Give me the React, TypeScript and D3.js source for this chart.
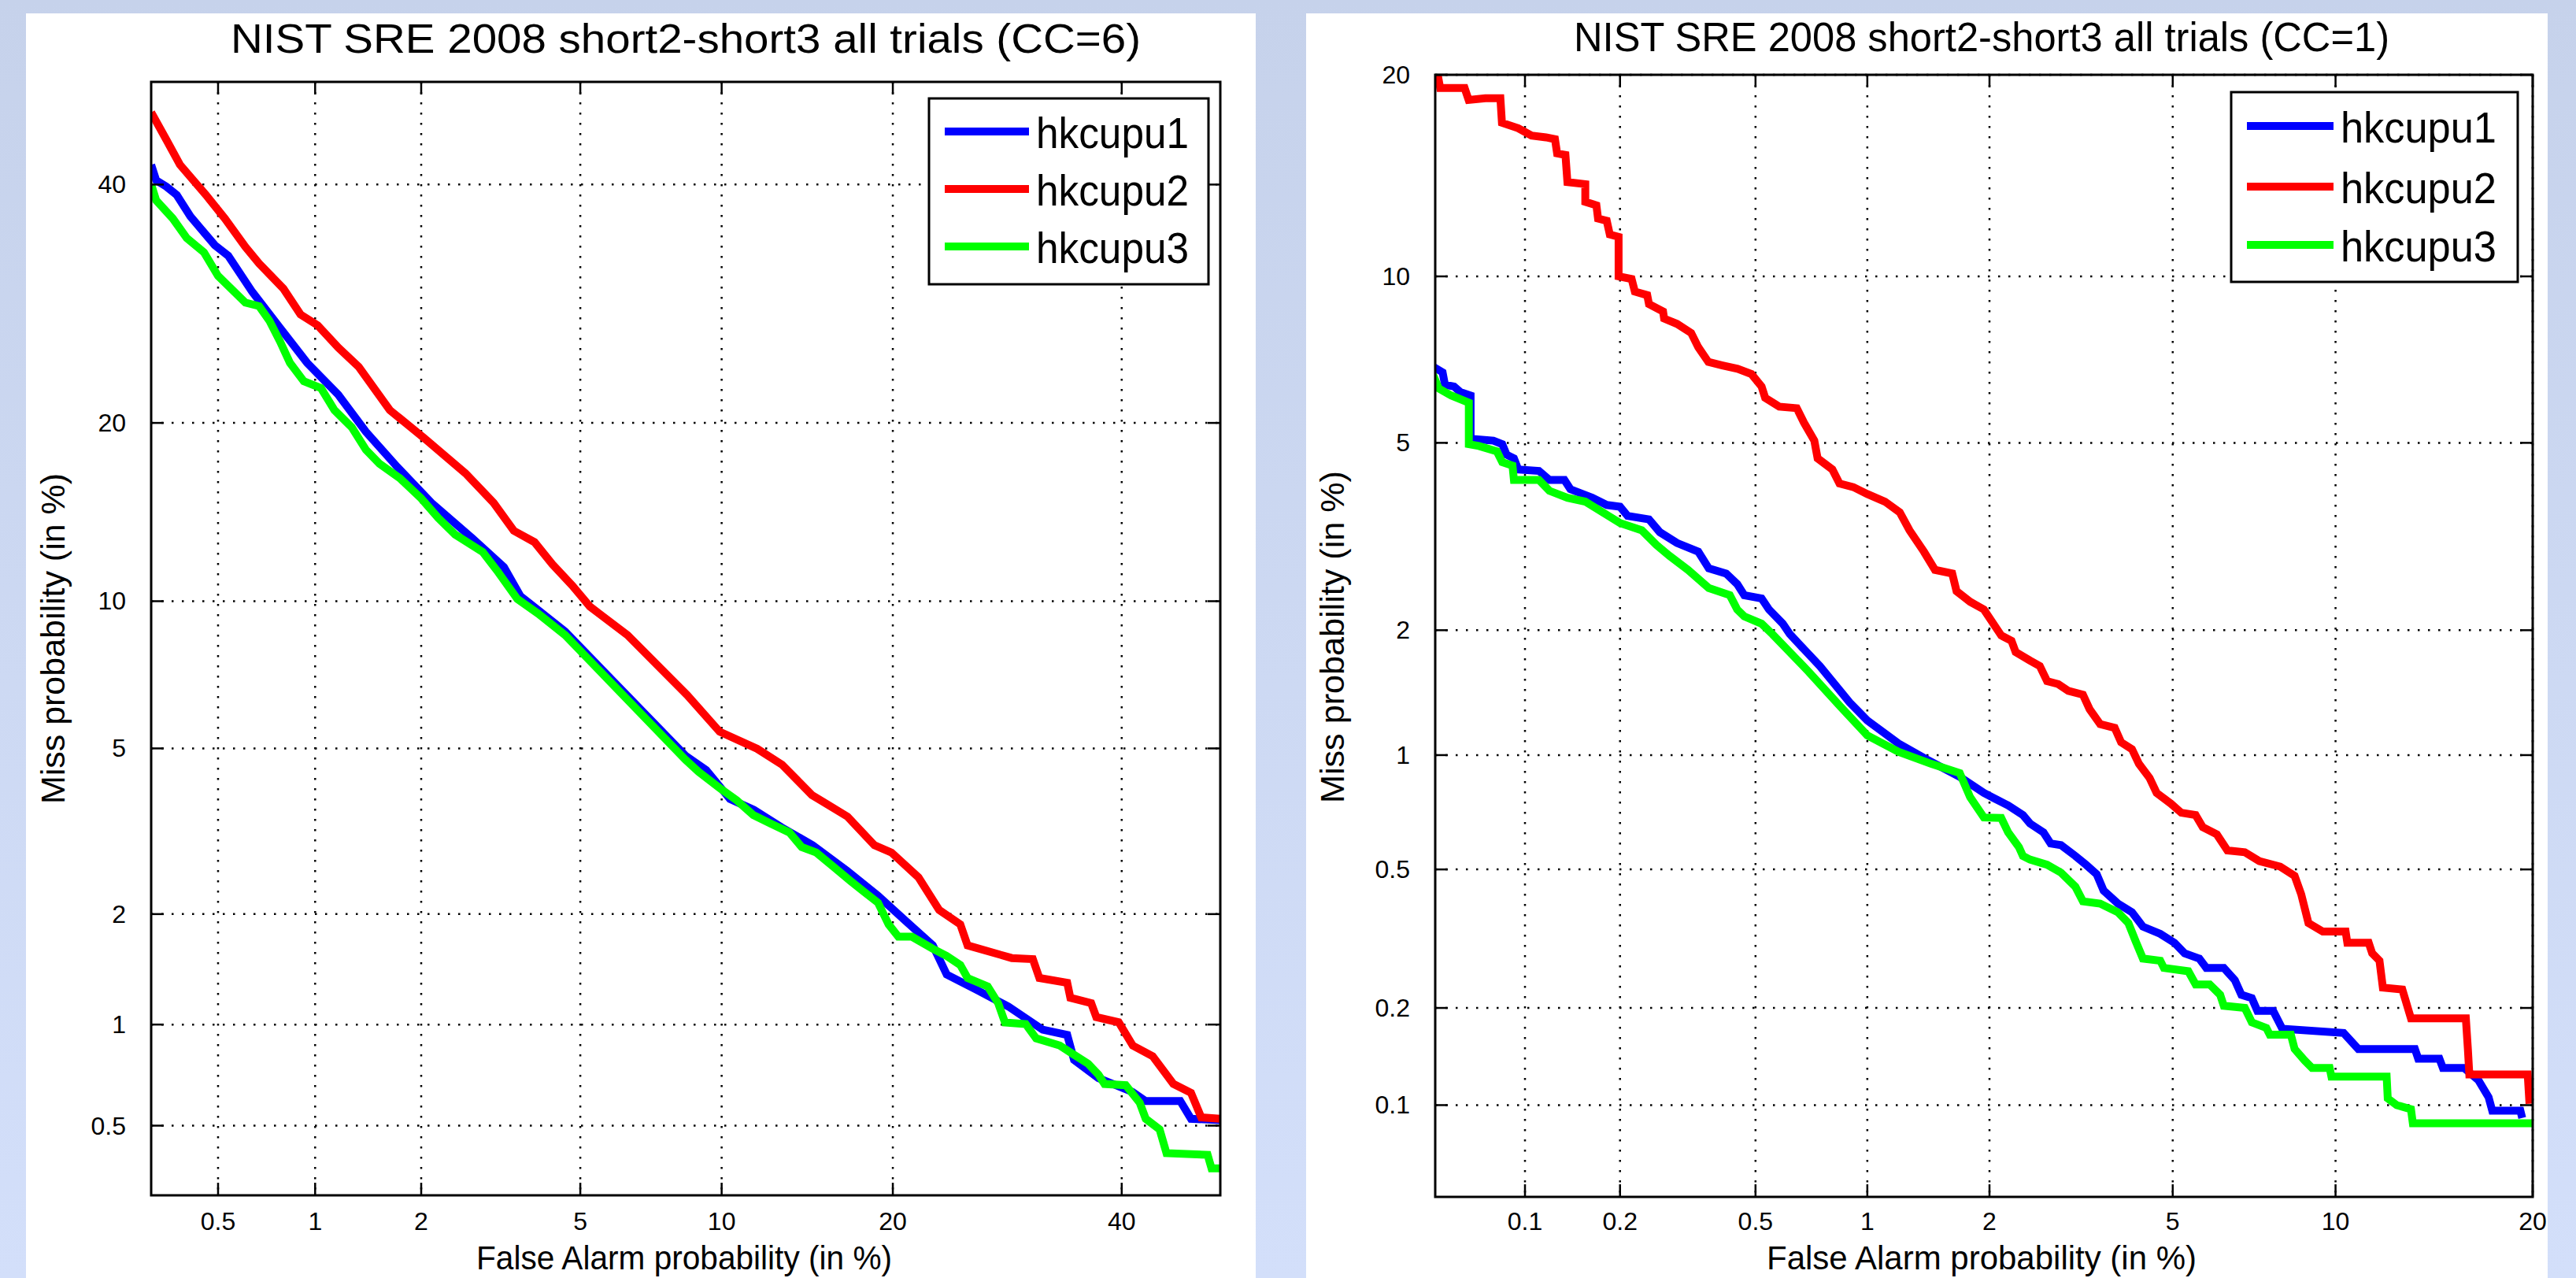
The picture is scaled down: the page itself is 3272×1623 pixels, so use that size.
import React from 'react'
import * as d3 from 'd3'

const W = 3272
const H = 1623
const FONT = '"Liberation Sans", Arial, Helvetica, sans-serif'

const SERIES = ['hkcupu1', 'hkcupu2', 'hkcupu3']
const COLORS = ['#0000ff', '#ff0000', '#00ff00']

// CC=6 panel, points are [false alarm %, miss %]
const cc6Hkcupu1: [number, number][] = [
  [0.30, 41.9], [0.312, 40.4], [0.338, 39.8], [0.366, 39.0], [0.406, 37.0], [0.488, 34.35], [0.539, 33.4],
  [0.643, 30.2], [0.783, 27.2], [0.947, 24.4], [1.17, 22.0], [1.405, 19.4], [1.72, 17.1], [2.13, 14.95],
  [2.73, 13.0], [3.28, 11.56], [3.6, 10.23], [4.61, 8.75], [8.46, 4.82], [9.32, 4.47], [10.38, 3.84],
  [11.53, 3.62], [12.98, 3.29], [14.74, 2.98], [16.86, 2.58], [18.95, 2.23], [20.9, 1.925], [23.0, 1.655],
  [24.1, 1.38], [26.6, 1.25], [29.3, 1.125], [32.4, 0.967], [34.7, 0.934], [35.35, 0.79], [37.7, 0.698],
  [41.06, 0.634], [42.4, 0.595], [45.9, 0.595], [47.0, 0.525], [50, 0.52],
]
const cc6Hkcupu2: [number, number][] = [
  [0.30, 47.0], [0.338, 44.3], [0.375, 41.9], [0.457, 39.0], [0.526, 36.8], [0.611, 34.2], [0.675, 32.7],
  [0.802, 30.5], [0.904, 28.3], [1.017, 27.4], [1.17, 25.6], [1.34, 24.1], [1.64, 20.9], [2.04, 18.95],
  [2.62, 16.7], [3.09, 14.95], [3.47, 13.4], [3.9, 12.8], [4.3, 11.7], [4.79, 10.7], [5.26, 9.77],
  [6.38, 8.61], [8.53, 6.51], [9.91, 5.44], [11.7, 4.99], [13.0, 4.6], [14.7, 3.92], [16.9, 3.49],
  [18.7, 2.98], [19.9, 2.86], [21.9, 2.48], [23.5, 2.05], [25.2, 1.88], [25.8, 1.655], [29.6, 1.53],
  [31.5, 1.52], [32.1, 1.35], [34.7, 1.31], [35.0, 1.19], [37.0, 1.15], [37.5, 1.05], [39.7, 1.015],
  [41.1, 0.87], [43.1, 0.81], [45.2, 0.67], [47.0, 0.63], [48.05, 0.53], [50, 0.525],
]
const cc6Hkcupu3: [number, number][] = [
  [0.30, 40.0], [0.312, 38.5], [0.355, 36.8], [0.395, 35.0], [0.45, 33.7], [0.5, 31.6], [0.611, 29.3],
  [0.675, 29.0], [0.726, 27.8], [0.783, 26.1], [0.84, 24.4], [0.925, 23.0], [1.04, 22.5], [1.14, 20.9],
  [1.28, 19.7], [1.405, 18.2], [1.535, 17.3], [1.75, 16.4], [2.0, 15.2], [2.22, 14.1], [2.46, 13.2],
  [2.9, 12.3], [3.15, 11.4], [3.54, 10.1], [3.98, 9.47], [4.61, 8.61], [8.46, 4.72], [9.0, 4.43],
  [9.91, 4.07], [10.7, 3.81], [11.5, 3.52], [12.4, 3.36], [13.4, 3.2], [14.1, 2.95], [14.95, 2.86],
  [16.0, 2.64], [17.1, 2.43], [18.0, 2.28], [18.95, 2.14], [19.7, 1.88], [20.4, 1.745], [21.4, 1.745],
  [23.0, 1.62], [24.1, 1.55], [25.2, 1.465], [25.8, 1.35], [27.5, 1.28], [28.4, 1.15], [29.0, 1.014],
  [30.85, 1.003], [31.8, 0.913], [34.0, 0.87], [35.35, 0.818], [36.7, 0.77], [37.7, 0.715], [38.3, 0.67],
  [40.4, 0.664], [41.8, 0.588], [42.4, 0.525], [43.8, 0.487], [44.5, 0.41], [48.7, 0.405], [49.1, 0.367],
  [50, 0.367],
]

// CC=1 panel
const cc1Hkcupu1: [number, number][] = [
  [0.049, 6.97], [0.053, 6.8], [0.054, 6.45], [0.058, 6.4], [0.061, 6.25], [0.066, 6.16], [0.066, 5.09],
  [0.0787, 5.05], [0.0842, 4.97], [0.087, 4.74], [0.092, 4.66], [0.095, 4.43], [0.111, 4.4], [0.12, 4.22],
  [0.134, 4.22], [0.14, 4.04], [0.164, 3.88], [0.182, 3.75], [0.2, 3.72], [0.211, 3.56], [0.245, 3.5],
  [0.264, 3.29], [0.297, 3.12], [0.343, 2.99], [0.368, 2.75], [0.413, 2.68], [0.444, 2.54], [0.465, 2.4],
  [0.52, 2.36], [0.545, 2.23], [0.595, 2.07], [0.622, 1.96], [0.75, 1.65], [0.9, 1.35], [1.0, 1.22],
  [1.2, 1.07], [1.4, 0.98], [1.7, 0.88], [1.94, 0.8], [2.05, 0.775], [2.21, 0.742], [2.39, 0.7],
  [2.48, 0.665], [2.66, 0.63], [2.76, 0.588], [2.91, 0.582], [3.13, 0.544], [3.3, 0.515], [3.48, 0.485],
  [3.6, 0.437], [3.86, 0.402], [4.13, 0.38], [4.35, 0.346], [4.72, 0.33], [5.04, 0.311], [5.28, 0.29],
  [5.64, 0.28], [5.82, 0.263], [6.29, 0.263], [6.6, 0.242], [6.79, 0.219], [7.1, 0.214], [7.27, 0.196],
  [7.77, 0.196], [8.07, 0.173], [10.32, 0.168], [10.92, 0.15], [13.47, 0.15], [13.63, 0.14], [14.69, 0.14],
  [14.87, 0.131], [15.99, 0.131], [16.78, 0.12], [17.36, 0.106], [17.57, 0.096], [19.24, 0.096], [19.35, 0.091],
]
const cc1Hkcupu2: [number, number][] = [
  [0.051, 20], [0.052, 19.2], [0.063, 19.2], [0.065, 18.5], [0.074, 18.6], [0.083, 18.6], [0.084, 17.2],
  [0.095, 16.9], [0.105, 16.5], [0.117, 16.4], [0.125, 16.3], [0.127, 15.55], [0.135, 15.47], [0.137, 14.1],
  [0.156, 14.0], [0.156, 13.16], [0.169, 13.0], [0.171, 12.4], [0.182, 12.3], [0.186, 11.7], [0.198, 11.6],
  [0.198, 10.0], [0.217, 9.9], [0.222, 9.43], [0.242, 9.3], [0.245, 8.98], [0.27, 8.72], [0.272, 8.48],
  [0.297, 8.3], [0.327, 8.0], [0.343, 7.55], [0.367, 7.1], [0.403, 7.0], [0.445, 6.9], [0.487, 6.75],
  [0.52, 6.4], [0.532, 6.1], [0.582, 5.87], [0.65, 5.83], [0.68, 5.47], [0.725, 5.05], [0.74, 4.66],
  [0.81, 4.43], [0.846, 4.15], [0.92, 4.08], [1.0, 3.95], [1.11, 3.81], [1.21, 3.62], [1.28, 3.32],
  [1.39, 2.99], [1.48, 2.73], [1.63, 2.68], [1.67, 2.45], [1.8, 2.32], [1.94, 2.23], [2.13, 1.945],
  [2.25, 1.89], [2.3, 1.78], [2.48, 1.7], [2.61, 1.65], [2.71, 1.52], [2.87, 1.495], [3.02, 1.44],
  [3.25, 1.41], [3.36, 1.3], [3.54, 1.195], [3.8, 1.17], [3.92, 1.077], [4.13, 1.035], [4.27, 0.95],
  [4.49, 0.874], [4.64, 0.8], [4.96, 0.75], [5.2, 0.71], [5.55, 0.7], [5.73, 0.65], [6.1, 0.622],
  [6.39, 0.563], [6.89, 0.557], [7.33, 0.527], [8.0, 0.509], [8.49, 0.48], [8.72, 0.427], [8.98, 0.354],
  [9.51, 0.335], [10.4, 0.335], [10.47, 0.311], [11.36, 0.311], [11.51, 0.29], [11.83, 0.276], [11.98, 0.23],
  [12.87, 0.227], [13.1, 0.203], [13.28, 0.186], [16.09, 0.186], [16.2, 0.15], [16.28, 0.125], [19.69, 0.125],
  [19.8, 0.101],
]
const cc1Hkcupu3: [number, number][] = [
  [0.049, 6.75], [0.0514, 6.35], [0.0567, 6.16], [0.0651, 5.97], [0.0651, 4.97], [0.0704, 4.93], [0.0808, 4.81],
  [0.0842, 4.58], [0.091, 4.51], [0.092, 4.22], [0.111, 4.22], [0.12, 4.01], [0.137, 3.88], [0.156, 3.81],
  [0.177, 3.62], [0.2, 3.44], [0.233, 3.32], [0.258, 3.09], [0.282, 2.93], [0.32, 2.73], [0.368, 2.49],
  [0.423, 2.4], [0.444, 2.23], [0.465, 2.15], [0.52, 2.07], [0.557, 1.96], [0.7, 1.6], [0.85, 1.32],
  [1.0, 1.12], [1.2, 1.02], [1.45, 0.95], [1.7, 0.9], [1.8, 0.78], [1.94, 0.69], [2.13, 0.688],
  [2.21, 0.63], [2.34, 0.575], [2.39, 0.544], [2.48, 0.532], [2.71, 0.515], [2.91, 0.49], [3.13, 0.448],
  [3.25, 0.408], [3.54, 0.402], [3.86, 0.38], [4.06, 0.354], [4.2, 0.315], [4.35, 0.28], [4.72, 0.276],
  [4.8, 0.263], [5.37, 0.257], [5.55, 0.235], [5.91, 0.235], [6.19, 0.219], [6.29, 0.203], [6.89, 0.2],
  [7.1, 0.181], [7.55, 0.174], [7.66, 0.166], [8.36, 0.166], [8.49, 0.15], [8.85, 0.138], [9.11, 0.131],
  [9.77, 0.131], [9.84, 0.123], [12.15, 0.123], [12.2, 0.105], [12.61, 0.1], [13.28, 0.097], [13.37, 0.0874],
  [20, 0.0874],
]

const cc6Ticks = [0.5, 1, 2, 5, 10, 20, 40]
const cc1Ticks = [0.1, 0.2, 0.5, 1, 2, 5, 10, 20]
const cc6Limits = [0.3, 50]
const cc1Limits = [0.05, 20]

// inverse normal cdf (Acklam)
function probit(p: number): number {
  const a = [-39.69683028665376, 220.9460984245205, -275.9285104469687, 138.357751867269, -30.66479806614716, 2.506628277459239]
  const b = [-54.47609879822406, 161.5858368580409, -155.6989798598866, 66.80131188771972, -13.28068155288572]
  const c = [-0.007784894002430293, -0.3223964580411365, -2.400758277161838, -2.549732539343734, 4.374664141464968, 2.938163982698783]
  const d = [0.007784695709041462, 0.3224671290700398, 2.445134137142996, 3.754408661907416]
  const lo = 0.02425
  if (p < lo) {
    const q = Math.sqrt(-2 * Math.log(p))
    return (((((c[0] * q + c[1]) * q + c[2]) * q + c[3]) * q + c[4]) * q + c[5]) / ((((d[0] * q + d[1]) * q + d[2]) * q + d[3]) * q + 1)
  }
  if (p <= 1 - lo) {
    const q = p - 0.5
    const r = q * q
    return ((((((a[0] * r + a[1]) * r + a[2]) * r + a[3]) * r + a[4]) * r + a[5]) * q) / (((((b[0] * r + b[1]) * r + b[2]) * r + b[3]) * r + b[4]) * r + 1)
  }
  const q = Math.sqrt(-2 * Math.log(1 - p))
  return -(((((c[0] * q + c[1]) * q + c[2]) * q + c[3]) * q + c[4]) * q + c[5]) / ((((d[0] * q + d[1]) * q + d[2]) * q + d[3]) * q + 1)
}
const dev = (pct: number) => probit(pct / 100)

type Panel = {
  id: string
  title: string
  titleLen: number
  titleX: number
  titleY: number
  bg: { x: number; y: number; w: number }
  plot: { x0: number; x1: number; y0: number; y1: number }
  limits: number[]
  ticks: number[]
  series: [number, number][][]
  xlabel: { x: number; len: number }
  ylabel: { x: number; y: number; len: number }
  legend: { x: number; y: number; w: number; h: number; lx0: number; lx1: number; rows: number[]; tx: number; tlen: number }
}

const fmt = (v: number) => String(v)

function DetPanel({ p }: { p: Panel }) {
  const { x0, x1, y0, y1 } = p.plot
  const x = d3.scaleLinear().domain([dev(p.limits[0]), dev(p.limits[1])]).range([x0, x1])
  const y = d3.scaleLinear().domain([dev(p.limits[0]), dev(p.limits[1])]).range([y1, y0])
  const line = d3
    .line<[number, number]>()
    .x((d) => x(dev(d[0])))
    .y((d) => y(dev(d[1])))
  const tickLen = 16
  const lg = p.legend
  return (
    <g>
      <rect x={p.bg.x} y={p.bg.y} width={p.bg.w} height={H - p.bg.y} fill="#ffffff" />
      <text
        x={p.titleX}
        y={p.titleY}
        textAnchor="middle"
        fontSize={52}
        textLength={p.titleLen}
        lengthAdjust="spacingAndGlyphs"
        fontFamily={FONT}
      >
        {p.title}
      </text>

      {/* grid */}
      <g stroke="#000" strokeWidth={2.5} strokeDasharray="2.5 10.5">
        {p.ticks.map((t) => (
          <line key={'gx' + t} x1={x(dev(t))} x2={x(dev(t))} y1={y0} y2={y1} />
        ))}
        {p.ticks.map((t) => (
          <line key={'gy' + t} x1={x0} x2={x1} y1={y(dev(t))} y2={y(dev(t))} />
        ))}
      </g>

      <clipPath id={'clip-' + p.id}>
        <rect x={x0} y={y0} width={x1 - x0} height={y1 - y0} />
      </clipPath>
      <g clipPath={`url(#clip-${p.id})`} fill="none" strokeWidth={10} strokeLinejoin="miter">
        {p.series.map((s, i) => (
          <path key={i} d={line(s) || ''} stroke={COLORS[i]} />
        ))}
      </g>

      {/* ticks */}
      <g stroke="#000" strokeWidth={2.5}>
        {p.ticks.map((t) => {
          const tx = x(dev(t))
          const ty = y(dev(t))
          return (
            <g key={'t' + t}>
              <line x1={tx} x2={tx} y1={y1} y2={y1 - tickLen} />
              <line x1={tx} x2={tx} y1={y0} y2={y0 + tickLen} />
              <line x1={x0} x2={x0 + tickLen} y1={ty} y2={ty} />
              <line x1={x1} x2={x1 - tickLen} y1={ty} y2={ty} />
            </g>
          )
        })}
      </g>
      <rect x={x0} y={y0} width={x1 - x0} height={y1 - y0} fill="none" stroke="#000" strokeWidth={3} />

      {/* tick labels */}
      <g fontFamily={FONT} fontSize={32} fill="#000">
        {p.ticks.map((t) => (
          <text key={'xl' + t} x={x(dev(t))} y={1562} textAnchor="middle">
            {fmt(t)}
          </text>
        ))}
        {p.ticks.map((t) => (
          <text key={'yl' + t} x={x0 - 32} y={y(dev(t))} textAnchor="end" dominantBaseline="central">
            {fmt(t)}
          </text>
        ))}
      </g>

      <text
        x={p.xlabel.x}
        y={1612}
        textAnchor="middle"
        fontFamily={FONT}
        fontSize={42}
        textLength={p.xlabel.len}
        lengthAdjust="spacingAndGlyphs"
      >
        False Alarm probability (in %)
      </text>
      <text
        transform={`translate(${p.ylabel.x},${p.ylabel.y}) rotate(-90)`}
        textAnchor="middle"
        fontFamily={FONT}
        fontSize={42}
        textLength={p.ylabel.len}
        lengthAdjust="spacingAndGlyphs"
      >
        Miss probability (in %)
      </text>

      {/* legend */}
      <rect x={lg.x} y={lg.y} width={lg.w} height={lg.h} fill="#fff" stroke="#000" strokeWidth={3} />
      {SERIES.map((name, i) => (
        <g key={name}>
          <line x1={lg.lx0} x2={lg.lx1} y1={lg.rows[i]} y2={lg.rows[i]} stroke={COLORS[i]} strokeWidth={10} />
          <text
            x={lg.tx}
            y={lg.rows[i] + 21}
            fontFamily={FONT}
            fontSize={56}
            textLength={lg.tlen}
            lengthAdjust="spacingAndGlyphs"
          >
            {name}
          </text>
        </g>
      ))}
    </g>
  )
}

const panels: Panel[] = [
  {
    id: 'cc6',
    title: 'NIST SRE 2008 short2-short3 all trials (CC=6)',
    titleLen: 1156,
    titleX: 871,
    titleY: 67,
    bg: { x: 33, y: 17, w: 1562 },
    plot: { x0: 192, x1: 1550, y0: 104, y1: 1518 },
    limits: cc6Limits,
    ticks: cc6Ticks,
    series: [cc6Hkcupu1, cc6Hkcupu2, cc6Hkcupu3],
    xlabel: { x: 869, len: 528 },
    ylabel: { x: 82, y: 811, len: 420 },
    legend: { x: 1180, y: 125, w: 355, h: 236, lx0: 1200, lx1: 1307, rows: [167, 240, 313], tx: 1316, tlen: 194 },
  },
  {
    id: 'cc1',
    title: 'NIST SRE 2008 short2-short3 all trials (CC=1)',
    titleLen: 1036,
    titleX: 2517,
    titleY: 65,
    bg: { x: 1659, y: 17, w: 1577 },
    plot: { x0: 1823, x1: 3217, y0: 95, y1: 1520 },
    limits: cc1Limits,
    ticks: cc1Ticks,
    series: [cc1Hkcupu1, cc1Hkcupu2, cc1Hkcupu3],
    xlabel: { x: 2517, len: 546 },
    ylabel: { x: 1707, y: 809, len: 422 },
    legend: { x: 2834, y: 117, w: 364, h: 241, lx0: 2854, lx1: 2964, rows: [160, 237, 311], tx: 2973, tlen: 198 },
  },
]

export default function App() {
  return (
    <div style={{ position: 'absolute', left: 0, top: 0 }}>
      <svg width={W} height={H} style={{ display: 'block' }}>
        <defs>
          <linearGradient id="bgGrad" x1="0" y1="0" x2="0" y2="1">
            <stop offset="0" stopColor="#c6d2eb" />
            <stop offset="1" stopColor="#d3dffa" />
          </linearGradient>
        </defs>
        <rect x={0} y={0} width={W} height={H} fill="url(#bgGrad)" />
        {panels.map((p) => (
          <DetPanel key={p.id} p={p} />
        ))}
      </svg>
    </div>
  )
}
